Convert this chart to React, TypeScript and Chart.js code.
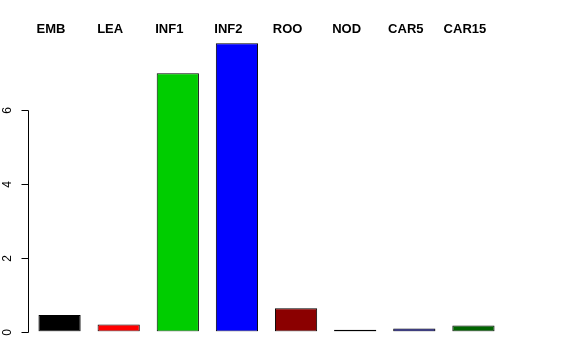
import React, { useEffect, useRef } from "react";
import { Chart, registerables } from "chart.js";

Chart.register(...registerables);

const categories = ["EMB", "LEA", "INF1", "INF2", "ROO", "NOD", "CAR5", "CAR15"];
const values = [0.45, 0.19, 7.0, 7.81, 0.63, 0.05, 0.08, 0.16];
const barColors = ["#000000", "#FF0000", "#00CD00", "#0000FF", "#8B0000", "#2B0A2B", "#000080", "#006400"];
const yTickValues = [0, 2, 4, 6];

const FONT = "'Liberation Sans', Arial, Helvetica, sans-serif";

const rAxisPlugin = {
  id: "rAxis",
  afterDraw(chart: any) {
    const ctx = chart.ctx;
    const ys = chart.scales.y;
    const ax = Math.round(chart.chartArea.left - 2) + 0.5;
    ctx.save();
    ctx.strokeStyle = "#000000";
    ctx.lineWidth = 1;
    const top = Math.round(ys.getPixelForValue(yTickValues[yTickValues.length - 1])) + 0.5;
    const bot = Math.round(ys.getPixelForValue(yTickValues[0])) + 0.5;
    ctx.beginPath();
    ctx.moveTo(ax, top);
    ctx.lineTo(ax, bot);
    ctx.stroke();
    ctx.font = `12px ${FONT}`;
    ctx.fillStyle = "#000000";
    ctx.textAlign = "center";
    ctx.textBaseline = "middle";
    for (const v of yTickValues) {
      const py = Math.round(ys.getPixelForValue(v)) + 0.5;
      ctx.beginPath();
      ctx.moveTo(ax - 7, py);
      ctx.lineTo(ax, py);
      ctx.stroke();
      ctx.save();
      ctx.translate(ax - 20.5, py);
      ctx.rotate(-Math.PI / 2);
      ctx.fillText(String(v), 0, 0);
      ctx.restore();
    }
    ctx.restore();
  },
};

export default function App() {
  const ref = useRef<HTMLCanvasElement | null>(null);
  useEffect(() => {
    document.body.style.margin = "0";
    const canvas = ref.current;
    if (!canvas) return;
    const chart = new Chart(canvas, {
      type: "bar",
      data: {
        labels: categories,
        datasets: [
          {
            data: values,
            backgroundColor: barColors,
            borderColor: "#000000",
            borderWidth: 1,
            borderSkipped: false,
            barPercentage: 0.714,
            categoryPercentage: 1,
          },
        ],
      },
      options: {
        responsive: false,
        animation: false,
        devicePixelRatio: 1,
        layout: { padding: { left: 30, right: 73, top: 23.3, bottom: 28.5 } },
        plugins: { legend: { display: false }, tooltip: { enabled: false } },
        scales: {
          x: { display: false },
          x2: {
            type: "linear",
            position: "top",
            offset: false,
            min: -0.356,
            max: 7.644,
            grid: { display: false, drawTicks: false, offset: false },
            border: { display: false },
            afterBuildTicks: (axis: any) => {
              axis.ticks = categories.map((_, i) => ({ value: i }));
            },
            ticks: {
              autoSkip: false,
              maxRotation: 0,
              padding: 0,
              color: "#000000",
              font: { family: FONT, size: 13, weight: "bold", lineHeight: 1 },
              callback: (v: any) => categories[Math.round(Number(v))] ?? "",
            },
          },
          y: {
            display: false,
            min: 0,
            max: 8,
            ticks: { stepSize: 2, includeBounds: false },
          },
        },
      },
      plugins: [rAxisPlugin],
    });
    return () => chart.destroy();
  }, []);
  return (
    <div style={{ width: 576, height: 360 }}>
      <canvas ref={ref} width={576} height={360} style={{ display: "block" }} />
    </div>
  );
}
